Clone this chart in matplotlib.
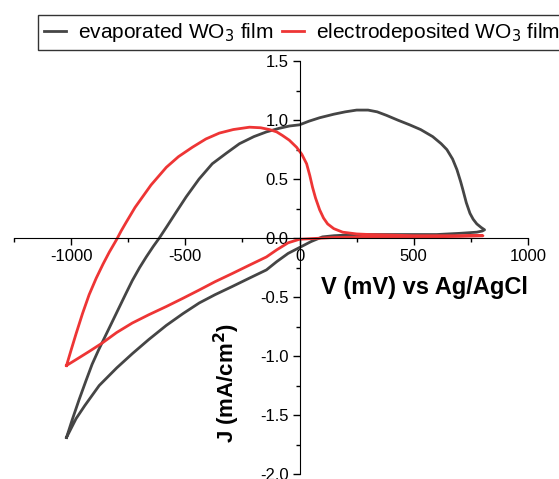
import matplotlib
matplotlib.use('Agg')
import matplotlib.pyplot as plt
from matplotlib.ticker import MultipleLocator

plt.rcParams['font.family'] = ['Liberation Sans', 'DejaVu Sans']
plt.rcParams['axes.unicode_minus'] = False

# evaporated WO3 film (CV loop, mV vs mA/cm2)
evap_v = [-1020, -995, -965, -935, -908, -880, -850, -820, -790, -760, -732, -700, -671, -640, -614,
          -580, -540, -496, -440, -382, -320, -263, -200, -145, -90, -44, 0,
          40, 88, 150, 200, 250, 300, 340, 381, 430, 482, 530, 583, 620, 645, 670,
          689, 705, 715, 730, 746, 760, 776, 795, 810,
          800, 776, 700, 600, 450, 307, 200, 150, 100, 50, 0,
          -50, -100, -145, -220, -294, -370, -439, -510, -583, -660, -732, -800,
          -877, -940, -978, -1020]
evap_j = [-1.69, -1.54, -1.37, -1.21, -1.07, -0.95, -0.83, -0.71, -0.59, -0.47, -0.36, -0.25, -0.16, -0.07, 0.0,
          0.10, 0.22, 0.35, 0.50, 0.63, 0.72, 0.80, 0.86, 0.90, 0.93, 0.95, 0.96,
          0.99, 1.02, 1.05, 1.07, 1.085, 1.085, 1.07, 1.04, 1.00, 0.96, 0.92, 0.86, 0.80, 0.75, 0.67,
          0.58, 0.48, 0.41, 0.30, 0.21, 0.16, 0.12, 0.09, 0.07,
          0.06, 0.05, 0.04, 0.03, 0.03, 0.03, 0.025, 0.02, 0.01, -0.03, -0.08,
          -0.13, -0.20, -0.27, -0.34, -0.41, -0.48, -0.55, -0.64, -0.74, -0.86, -0.98, -1.10,
          -1.25, -1.42, -1.53, -1.69]

# electrodeposited WO3 film
elec_v = [-1020, -1000, -978, -950, -921, -890, -860, -833, -800, -781, -760, -720, -650,
          -583, -530, -469, -410, -351, -290, -219, -170, -132, -100, -75, -45, -13,
          10, 31, 45, 57, 70, 88, 105, 123, 150, 189, 250, 307, 500, 700, 803,
          700, 500, 300, 150, 100, 50, 0,
          -50, -100, -145, -220, -294, -370, -439, -510, -583, -660, -732, -800,
          -864, -920, -978, -1020]
elec_j = [-1.08, -0.95, -0.81, -0.64, -0.48, -0.34, -0.22, -0.12, -0.01, 0.06, 0.13, 0.26, 0.45,
          0.60, 0.69, 0.77, 0.84, 0.89, 0.92, 0.94, 0.935, 0.92, 0.90, 0.87, 0.83, 0.77,
          0.71, 0.63, 0.53, 0.43, 0.34, 0.24, 0.17, 0.12, 0.08, 0.05, 0.035, 0.03, 0.02, 0.02, 0.02,
          0.015, 0.01, 0.01, 0.005, 0.0, -0.005, -0.01,
          -0.04, -0.10, -0.16, -0.23, -0.30, -0.37, -0.44, -0.51, -0.58, -0.65, -0.72, -0.80,
          -0.89, -0.96, -1.03, -1.08]

fig = plt.figure(figsize=(5.59, 4.79), dpi=100)
ax = fig.add_axes([0.025, 0.0104, 0.9195, 0.862])

ax.plot(evap_v, evap_j, color='#454545', linewidth=2, label='evaporated WO$_3$ film')
ax.plot(elec_v, elec_j, color='#ee3535', linewidth=2, label='electrodeposited WO$_3$ film')

ax.set_xlim(-1250, 1000)
ax.set_ylim(-2.0, 1.5)
ax.spines['left'].set_position(('data', 0))
ax.spines['bottom'].set_position(('data', 0))
ax.spines['top'].set_visible(False)
ax.spines['right'].set_visible(False)
ax.patch.set_alpha(0)

ax.set_xticks([-1000, -500, 0, 500, 1000])
ax.set_yticks([-2.0, -1.5, -1.0, -0.5, 0.0, 0.5, 1.0, 1.5])
ax.set_yticklabels(['-2.0', '-1.5', '-1.0', '-0.5', '0.0', '0.5', '1.0', '1.5'])
ax.xaxis.set_minor_locator(MultipleLocator(250))
ax.yaxis.set_minor_locator(MultipleLocator(0.25))
ax.tick_params(which='major', direction='out', length=5, width=1, labelsize=12, pad=3)
ax.tick_params(which='minor', direction='out', length=3, width=1)

ax.text(548, -0.415, 'V (mV) vs Ag/AgCl', fontsize=17, fontweight='bold',
        ha='center', va='center')
ax.text(-316, -1.23, 'J (mA/cm$^\\mathbf{2}$)', fontsize=16, fontweight='bold',
        ha='center', va='center', rotation=90)

leg = ax.legend(loc='upper left', bbox_to_anchor=(0.068, 0.969), bbox_transform=fig.transFigure,
                ncol=2, fontsize=15, frameon=True, fancybox=False, edgecolor='black',
                handlelength=1.05, handletextpad=0.55, columnspacing=0.45, borderpad=0.3,
                borderaxespad=0)
leg.get_frame().set_linewidth(1)

plt.savefig('out.png', dpi=100)
